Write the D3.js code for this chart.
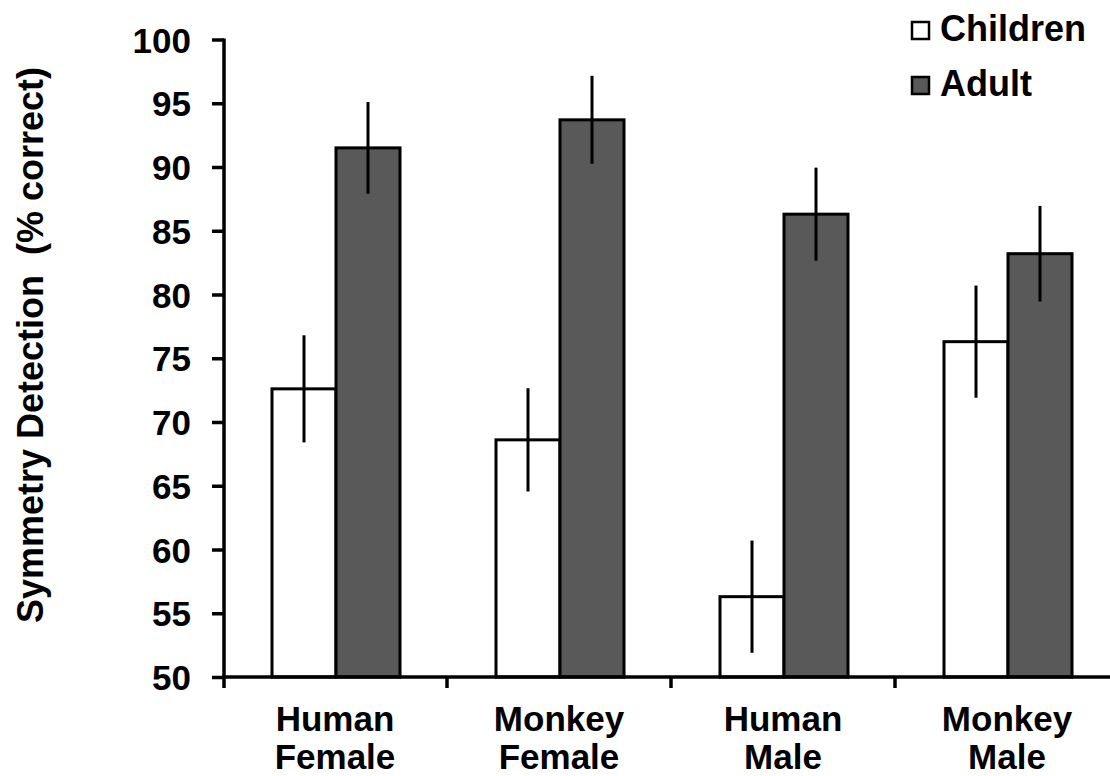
<!DOCTYPE html>
<html>
<head>
<meta charset="utf-8">
<script src="https://cdn.jsdelivr.net/npm/d3@7"></script>
<style>
  body { margin: 0; background: #fff; }
  text { font-family: "Liberation Sans", Arial, sans-serif; font-weight: bold; fill: #000; }
</style>
</head>
<body>
<div id="chart"></div>
<script>
var categories = [["Human", "Female"], ["Monkey", "Female"], ["Human", "Male"], ["Monkey", "Male"]];
var seriesNames = ["Children", "Adult"];
var childrenValues = [72.6, 68.6, 56.3, 76.3];
var childrenErrors = [4.2, 4.05, 4.4, 4.4];
var adultValues = [91.5, 93.7, 86.3, 83.2];
var adultErrors = [3.6, 3.45, 3.65, 3.75];
var yTicks = [50, 55, 60, 65, 70, 75, 80, 85, 90, 95, 100];

var width = 1110, height = 776;
var colors = { Children: "#ffffff", Adult: "#595959" };

var svg = d3.select("#chart").append("svg")
    .attr("width", width).attr("height", height);

var x0 = d3.scaleBand().domain(d3.range(categories.length)).range([223, 1119]);
var x1 = d3.scaleBand().domain(seriesNames).range([49, 177]);
var y = d3.scaleLinear().domain([50, 100]).range([677, 39.5]);

var data = [];
categories.forEach(function (c, i) {
    data.push({ g: i, s: "Children", v: childrenValues[i], e: childrenErrors[i] });
    data.push({ g: i, s: "Adult", v: adultValues[i], e: adultErrors[i] });
});

// bars
svg.selectAll("rect.bar").data(data).enter().append("rect")
    .attr("class", "bar")
    .attr("x", function (d) { return x0(d.g) + x1(d.s); })
    .attr("y", function (d) { return y(d.v); })
    .attr("width", x1.bandwidth())
    .attr("height", function (d) { return y(50) - y(d.v); })
    .style("fill", function (d) { return colors[d.s]; })
    .style("stroke", "#000")
    .style("stroke-width", 3);

// error bars
svg.selectAll("line.err").data(data).enter().append("line")
    .attr("class", "err")
    .attr("x1", function (d) { return x0(d.g) + x1(d.s) + x1.bandwidth() / 2; })
    .attr("x2", function (d) { return x0(d.g) + x1(d.s) + x1.bandwidth() / 2; })
    .attr("y1", function (d) { return y(d.v + d.e); })
    .attr("y2", function (d) { return y(d.v - d.e); })
    .style("stroke", "#000")
    .style("stroke-width", 3);

// y axis
var yAxis = svg.append("g").attr("transform", "translate(224,0)")
    .call(d3.axisLeft(y).tickValues(yTicks).tickSize(12).tickPadding(21).tickSizeOuter(0));
yAxis.select(".domain").attr("d", "M0," + (y(100) - 1) + "V" + (y(50) + 11)).style("stroke-width", 3.5);
yAxis.selectAll(".tick line").style("stroke-width", 3.5);
yAxis.selectAll(".tick text").style("font-size", "35px").attr("dy", "0.36em");

// x axis
var xAxis = svg.append("g").attr("transform", "translate(0," + y(50) + ")");
xAxis.append("line").attr("x1", 222).attr("x2", width)
    .style("stroke", "#000").style("stroke-width", 3.5);
xAxis.selectAll("line.xt").data(d3.range(1, categories.length)).enter().append("line")
    .attr("class", "xt")
    .attr("x1", function (d) { return x0(d); }).attr("x2", function (d) { return x0(d); })
    .attr("y1", 0).attr("y2", 11)
    .style("stroke", "#000").style("stroke-width", 3.5);

var labels = svg.selectAll("text.cat").data(categories).enter().append("text")
    .attr("class", "cat")
    .attr("text-anchor", "middle")
    .style("font-size", "35px");
labels.each(function (c, i) {
    var t = d3.select(this);
    c.forEach(function (line, j) {
        t.append("tspan").attr("x", x0(i) + x0.bandwidth() / 2).attr("y", 731 + j * 38).text(line);
    });
});

// y title
svg.append("text")
    .attr("transform", "translate(43,345) rotate(-90)")
    .attr("text-anchor", "middle")
    .style("font-size", "36px")
    .style("white-space", "pre")
    .text("Symmetry Detection  (% correct)");

// legend
var legend = svg.selectAll("g.legend").data(seriesNames).enter().append("g")
    .attr("class", "legend")
    .attr("transform", function (d, i) { return "translate(912," + (22 + i * 55) + ")"; });
legend.append("rect").attr("width", 17).attr("height", 17)
    .style("fill", function (d) { return colors[d]; })
    .style("stroke", "#000").style("stroke-width", 2.5);
legend.append("text").attr("x", 28).attr("y", 19)
    .style("font-size", "36px")
    .text(function (d) { return d; });
</script>
</body>
</html>
